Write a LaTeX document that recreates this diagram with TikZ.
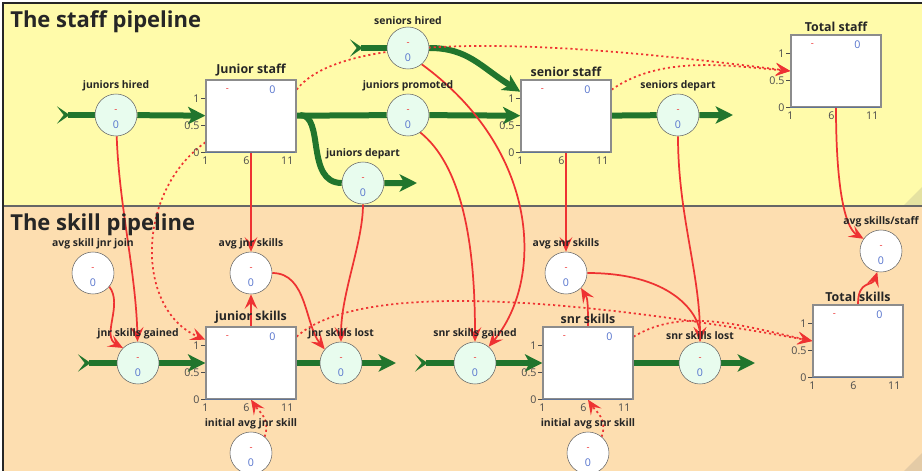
\documentclass[tikz,border=0pt]{standalone}
\usepackage{fontspec}
\setmainfont{Open Sans}
\usetikzlibrary{arrows.meta}
\definecolor{staffbg}{RGB}{255,251,170}
\definecolor{skillbg}{RGB}{253,222,176}
\definecolor{flowgreen}{RGB}{33,117,45}
\definecolor{linkred}{RGB}{238,50,50}
\definecolor{valvefill}{RGB}{232,252,238}
\definecolor{numblue}{RGB}{85,115,205}
\definecolor{boxgray}{RGB}{140,140,140}
\definecolor{axisblue}{RGB}{95,115,150}

\pgfdeclarelayer{back}
\pgfdeclarelayer{wires}
\pgfsetlayers{back,wires,main}

\newcommand{\stockaxis}[1]{%
	\begin{scope}[shift={(#1.south west)}]
		\draw[axisblue, line width=1.2] (0,0) -- (90,0);
		\foreach \yy/\lab/\id in {0/0/a, -27/0.5/b, -54/1/c}
			\draw[black!70, line width=0.8] (0,\yy) -- (-4,\yy) node[tick, anchor=east] (#1-y\id) {\lab};
		\foreach \xx/\lab/\id in {0/1/a, 41/6/b, 82/11/c}
			\node[tick, anchor=north] (#1-x\id) at (\xx,3) {\lab};
		\node[dashval] (#1-dash) at (22,-63) {-};
		\node[numval] (#1-num) at (67,-63) {0};
	\end{scope}}

\begin{document}
\begin{tikzpicture}[x=0.75pt, y=-0.75pt,
	tick/.style={font=\fontsize{8}{9}\selectfont, text=black!70, inner sep=1pt},
	dashval/.style={font=\fontsize{7}{8}\selectfont, text=linkred, inner sep=0pt},
	numval/.style={font=\fontsize{8}{9}\selectfont, text=numblue, inner sep=0pt},
	valve/.style={circle, draw=black!60, fill=valvefill, minimum size=31.5pt, inner sep=0pt,
		label={[dashval, yshift=3pt]center:-}, label={[numval, yshift=-7.5pt]center:0}},
	aux/.style={valve, fill=white},
	stock/.style={rectangle, draw=boxgray, fill=white, line width=1, minimum width=67.5pt, minimum height=54pt, inner sep=0pt},
	vlabel/.style={font=\bfseries\fontsize{7.8}{9}\selectfont, text=black!85, inner sep=1.5pt},
	stitle/.style={font=\bfseries\fontsize{9.3}{11}\selectfont, text=black!85, inner sep=2pt},
	section/.style={font=\bfseries\fontsize{16.5}{20}\selectfont, text=black!85, anchor=west, inner sep=0pt},
	flow/.style={flowgreen, line width=4.5pt, -{Stealth[length=13pt, width=13pt, inset=3.5pt]}},
	source/.style={flowgreen, line width=4.5pt, {Stealth[reversed, length=9.5pt, width=13pt, inset=5pt]}-},
	link/.style={linkred, line width=1.3pt, -{Stealth[length=11pt, width=9.5pt, inset=4.5pt]}},
	info/.style={link, dash pattern=on 1.6pt off 2.2pt}]

	\useasboundingbox (0,0) rectangle (922,471);
	\begin{pgfonlayer}{back}
		\fill[white] (0,0) rectangle (922,471);
		\fill[staffbg] (3,3) rectangle (922,206);
		\fill[skillbg] (3,206) rectangle (922,471);
		\fill[staffbg!80!gray] (922,187) -- (922,206) -- (903,206) -- cycle;
		\fill[skillbg!80!gray] (922,453) -- (922,471) -- (904,471) -- cycle;
		\draw[black!60, line width=1.5] (3,206) -- (922,206);
		\draw[black!85, line width=1.5] (3,471) -- (3,3) -- (922,3);
	\end{pgfonlayer}

	\node[section] (staffhead) at (10,22) {The staff pipeline};
	\node[section] (skillhead) at (10,225) {The skill pipeline};

	% staff pipeline
	\node[valve, label={[vlabel]above:juniors hired}] (jh) at (116,115) {};
	\node[stock, label={[stitle]above:Junior staff}] (js) at (251,116) {};
	\node[valve, label={[vlabel]above:seniors hired}] (sh) at (408,48) {};
	\node[valve, label={[vlabel]above:juniors promoted}] (jp) at (408,115) {};
	\node[valve, label={[vlabel]above:juniors depart}] (jd) at (363,183) {};
	\node[stock, label={[stitle]above:senior staff}] (ss) at (566,116) {};
	\node[valve, label={[vlabel]above:seniors depart}] (sd) at (678,115) {};
	\node[stock, label={[stitle]above:Total staff}] (ts) at (836,71) {};

	% skill pipeline
	\node[aux, label={[vlabel]above:avg skill jnr join}] (asj) at (93,273) {};
	\node[valve, label={[vlabel]above:jnr skills gained}] (jsg) at (138,363) {};
	\node[stock, label={[stitle]above:junior skills}] (jk) at (251,363) {};
	\node[aux, label={[vlabel]above:avg jnr skills}] (ajs) at (251,273) {};
	\node[aux, label={[vlabel]above:initial avg jnr skill}] (iaj) at (251,453) {};
	\node[valve, label={[vlabel]above:jnr skills lost}] (jsl) at (341,363) {};
	\node[valve, label={[vlabel]above:snr skills gained}] (ssg) at (475,363) {};
	\node[stock, label={[stitle]above:snr skills}] (sk) at (588,363) {};
	\node[aux, label={[vlabel]above:avg snr skills}] (ass) at (566,273) {};
	\node[aux, label={[vlabel]above:initial avg snr skill}] (ias) at (588,453) {};
	\node[valve, label={[vlabel]above:snr skills lost}] (ssl) at (700,363) {};
	\node[stock, label={[stitle]above:Total skills}] (tk) at (858,341) {};
	\node[aux, label={[vlabel]above:avg skills/staff}] (aps) at (881,251) {};

	\stockaxis{js}
	\stockaxis{ss}
	\stockaxis{ts}
	\stockaxis{jk}
	\stockaxis{sk}
	\stockaxis{tk}

	\coordinate (jhin) at (57,115);
	\coordinate (shin) at (350,48);
	\coordinate (jdsplit) at (300,115);
	\coordinate (jdout) at (417,183);
	\coordinate (sdout) at (733,115);
	\coordinate (jsgin) at (78,363);
	\coordinate (jslout) at (396,363);
	\coordinate (ssgin) at (415,363);
	\coordinate (sslout) at (755,363);

	\begin{pgfonlayer}{wires}
		% flows
		\draw[source] (jhin) -- (jh);
		\draw[flow] (jh) -- (js);
		\draw[flow] (js) -- (jp) -- (ss);
		\draw[flow] (jdsplit) .. controls +(25,0) and +(-58,0) .. (jd) -- (jdout);
		\draw[source] (shin) -- (sh);
		\draw[flow] (sh) .. controls +(60,0) and +(-40,-25) .. (ss.152);
		\draw[flow] (ss) -- (sd) -- (sdout);
		\draw[source] (jsgin) -- (jsg);
		\draw[flow] (jsg) -- (jk);
		\draw[flow] (jk) -- (jsl) -- (jslout);
		\draw[source] (ssgin) -- (ssg);
		\draw[flow] (ssg) -- (sk);
		\draw[flow] (sk) -- (ssl) -- (sslout);

		% links
		\draw[link] (jh) .. controls +(3,90) and +(-2,-90) .. (jsg);
		\draw[link] (asj.-40) .. controls +(14,18) and +(-22,-12) .. (jsg.135);
		\draw[link] (js) -- (ajs);
		\draw[link] (jk) -- (ajs);
		\draw[link] (ajs.east) .. controls +(35,0) and +(-20,-25) .. (jsl.140);
		\draw[link] (jd) .. controls +(0,60) and +(0,-70) .. (jsl);
		\draw[link] (jp.-55) .. controls +(50,40) and +(0,-90) .. (ssg);
		\draw[link] (sh.-50) .. controls +(118,86) and +(56,-67) .. (ssg.50);
		\draw[link] (ss) -- (ass);
		\draw[link] (sk.north) .. controls +(0,-30) and +(6,10) .. (ass.-45);
		\draw[link] (ass.east) .. controls +(90,0) and +(0,-45) .. (ssl);
		\draw[link] (sd) .. controls +(0,100) and +(0,-90) .. (ssl);
		\draw[link] (ts) .. controls +(0,110) and +(-20,-12) .. (aps.145);
		\draw[link] (tk.north) .. controls +(0,-25) and +(-5,15) .. (aps.-100);

		% %%%%
		\draw[info] (js.30) .. controls +(54,-70) and +(-166,-21) .. (ts.west);
		\draw[info] (ss.30) .. controls +(50,-35) and +(-60,-5) .. (ts.west);
		\draw[info] (js.-150) .. controls +(-70,50) and +(-70,-30) .. (jk.153);
		\draw[info] (iaj.50) .. controls +(6,-18) and +(8,12) .. (jk.south);
		\draw[info] (ias.50) .. controls +(6,-18) and +(8,12) .. (sk.south);
		\draw[info] (jk.30) .. controls +(64,-58) and +(-228,-41) .. (tk.west);
		\draw[info] (sk.30) .. controls +(50,-30) and +(-70,-15) .. (tk.west);
	\end{pgfonlayer}

\end{tikzpicture}
\end{document}
